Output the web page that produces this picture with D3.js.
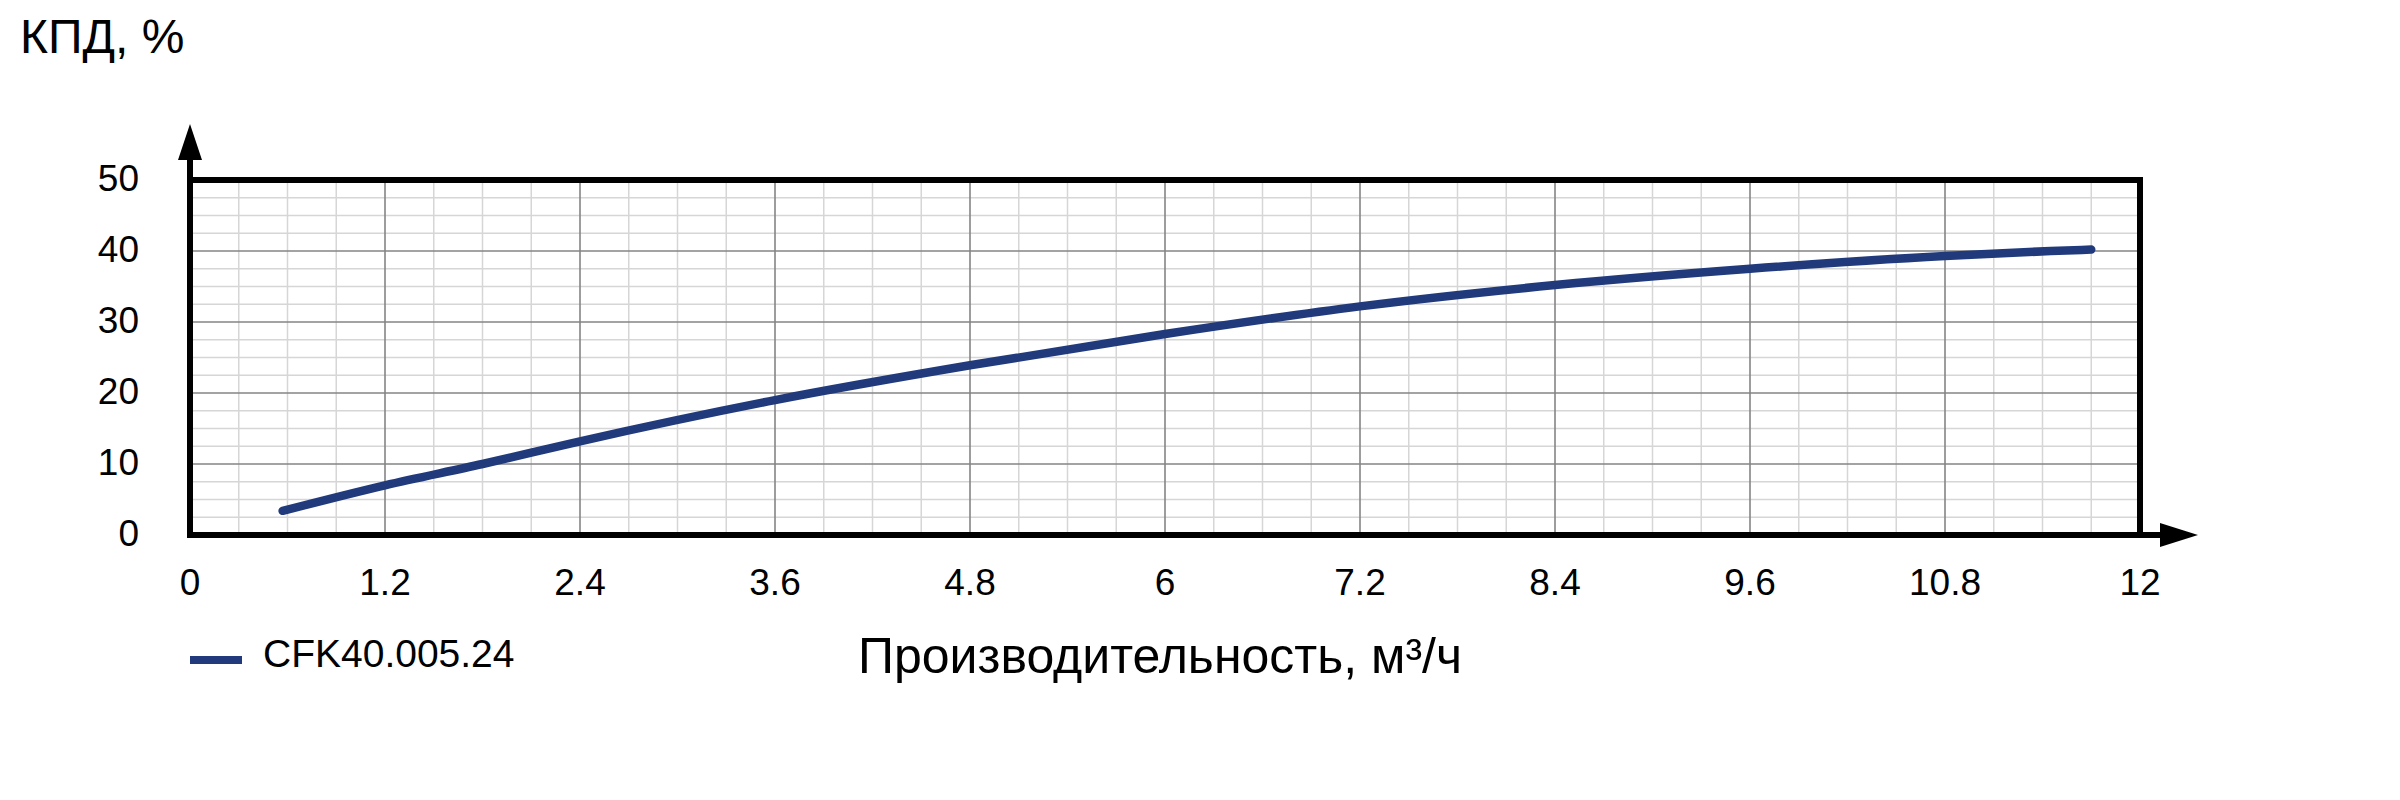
<!DOCTYPE html>
<html><head><meta charset="utf-8">
<script src="https://cdn.jsdelivr.net/npm/d3@7"></script>
<style>body{margin:0;background:#fff}svg{display:block;font-family:"Liberation Sans",Arial,sans-serif}</style>
</head><body><svg id="c" width="2400" height="800"></svg>
<script>
const flowX = [0.57, 1.2, 1.8, 2.4, 3.6, 4.8, 6.0, 7.2, 8.4, 9.6, 10.8, 11.45, 11.7];
const effY  = [3.4, 7.0, 10.0, 13.2, 19.0, 23.9, 28.3, 32.2, 35.2, 37.5, 39.3, 40.0, 40.2];
const xTicks = [0, 1.2, 2.4, 3.6, 4.8, 6, 7.2, 8.4, 9.6, 10.8, 12];
const yTicks = [0, 10, 20, 30, 40, 50];
const seriesName = "CFK40.005.24";
const yTitle = "КПД, %";
const xTitle = "Производительность, м³/ч";

const svg = d3.select("#c");
svg.append("rect").attr("width",2400).attr("height",800).attr("fill","#fff");
const L=190, R=2140, T=180, B=535;
const x = d3.scaleLinear().domain([0,12]).range([L,R]);
const y = d3.scaleLinear().domain([0,50]).range([B,T]);
const lineColor = "#203a7c";

// minor grid
const minorX = d3.range(0, 12.0001, 0.3).filter(v => Math.abs(v/1.2 - Math.round(v/1.2))>1e-6);
const minorY = d3.range(0, 50.0001, 2.5).filter(v => v%10!==0);
const g = svg.append("g");
g.selectAll(".mx").data(minorX).join("line").attr("x1",d=>x(d)).attr("x2",d=>x(d)).attr("y1",T).attr("y2",B).attr("stroke","#d6d6d6").attr("stroke-width",1.5);
g.selectAll(".my").data(minorY).join("line").attr("y1",d=>y(d)).attr("y2",d=>y(d)).attr("x1",L).attr("x2",R).attr("stroke","#d6d6d6").attr("stroke-width",1.5);
g.selectAll(".Mx").data(xTicks.slice(1,-1)).join("line").attr("x1",d=>x(d)).attr("x2",d=>x(d)).attr("y1",T).attr("y2",B).attr("stroke","#858585").attr("stroke-width",1.6);
g.selectAll(".My").data(yTicks.slice(1,-1)).join("line").attr("y1",d=>y(d)).attr("y2",d=>y(d)).attr("x1",L).attr("x2",R).attr("stroke","#858585").attr("stroke-width",1.6);

// frame
svg.append("line").attr("x1",L).attr("x2",R+3).attr("y1",T).attr("y2",T).attr("stroke","#000").attr("stroke-width",6);
svg.append("line").attr("x1",R).attr("x2",R).attr("y1",T).attr("y2",B).attr("stroke","#000").attr("stroke-width",6);
// axes
svg.append("line").attr("x1",L-3).attr("x2",2170).attr("y1",B).attr("y2",B).attr("stroke","#000").attr("stroke-width",6);
svg.append("line").attr("x1",L).attr("x2",L).attr("y1",B+3).attr("y2",150).attr("stroke","#000").attr("stroke-width",6);
svg.append("path").attr("d",`M${L},124 L${L-12},160 L${L+12},160 Z`).attr("fill","#000");
svg.append("path").attr("d",`M2198,${B} L2160,${B-12} L2160,${B+12} Z`).attr("fill","#000");

// tick labels
svg.selectAll(".yt").data(yTicks).join("text").attr("x",139).attr("y",d=>y(d)+11).attr("text-anchor","end")
  .attr("font-size",37).attr("fill","#000").text(d=>d);
svg.selectAll(".xt").data(xTicks).join("text").attr("x",d=>x(d)).attr("y",595).attr("text-anchor","middle")
  .attr("font-size",37).attr("fill","#000").text(d=>d);

// curve
const data = flowX.map((v,i)=>[v,effY[i]]);
svg.append("path").datum(data).attr("fill","none").attr("stroke",lineColor).attr("stroke-width",8.5)
  .attr("stroke-linecap","round").attr("stroke-linejoin","round")
  .attr("d", d3.line().x(d=>x(d[0])).y(d=>y(d[1])).curve(d3.curveMonotoneX));

// titles
svg.append("text").attr("x",20).attr("y",53).attr("font-size",48).attr("fill","#000").text(yTitle);
svg.append("text").attr("x",1160).attr("y",673).attr("text-anchor","middle").attr("font-size",50).attr("fill","#000").text(xTitle);

// legend
svg.append("line").attr("x1",190).attr("x2",242).attr("y1",660).attr("y2",660).attr("stroke",lineColor).attr("stroke-width",8);
svg.append("text").attr("x",263).attr("y",667).attr("font-size",39).attr("fill","#000").text(seriesName);
</script></body></html>
